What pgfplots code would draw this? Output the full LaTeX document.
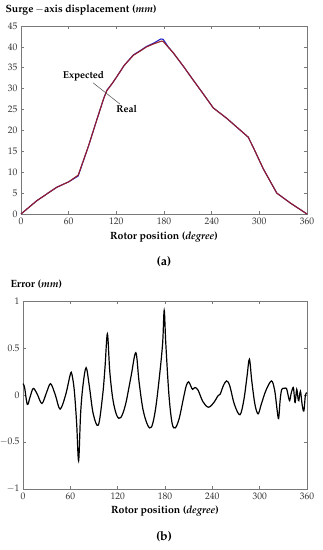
\documentclass[border=0pt]{standalone}
\usepackage[T1]{fontenc}
\usepackage{mathpazo}
\usepackage{pgfplots}
\pgfplotsset{compat=1.18}
\definecolor{axgray}{RGB}{120,120,120}
\definecolor{txtgray}{RGB}{50,50,50}
\definecolor{expblue}{RGB}{40,40,200}
\definecolor{realred}{RGB}{150,30,40}
\pgfplotsset{
  myax/.style={
    scale only axis, width=286pt, height=188pt,
    xmin=0, xmax=360, xtick={0,60,...,360},
    tick align=inside, major tick length=3pt,
    axis line style={axgray, line width=0.6pt},
    tick style={axgray, line width=0.6pt},
    ticklabel style={font=\fontsize{9.5}{11}\selectfont, text=txtgray},
    clip=false,
  }
}
\begin{document}
\begin{tikzpicture}
\path[use as bounding box] (0pt,0pt) rectangle (322pt,-550pt);
% ---------- (a) ----------
\begin{axis}[myax, at={(21pt,-214pt)}, anchor=south west,
  ymin=0, ymax=45, ytick={0,5,...,45}]
\addplot[expblue, line width=1.1pt] coordinates {
(0,0) (20,3.2) (45,6.4) (60,7.7) (72,9.1) (85,16.3) (95,22.3) (104,27.6) (108,29.6)
(115,31.3) (120,32.7) (130,35.6) (141.5,38.1) (150,39.1) (158,40.1) (168,41.0) (176,41.9) (179,41.8)
(185,40.1) (192,38.5) (205,35.2) (217,32) (230,28.6) (242,25.4) (259,22.9) (286,18.4) (292,16.1)
(305,10.8) (322,5) (340,2.5) (360,0)};
\addplot[realred, line width=1.1pt] coordinates {
(0,0) (20,3.2) (45,6.4) (60,7.7) (72,9.3) (85,16.3) (95,22.3) (104,27.6) (108,29.5)
(115,31.3) (120,32.7) (130,35.6) (141.5,38.0) (150,39.0) (158,40.0) (168,40.8) (177,41.4) (179,41.3)
(185,40.0) (192,38.5) (205,35.2) (217,32) (230,28.6) (242,25.4) (259,22.9) (286,18.4) (292,16.1)
(305,10.8) (322,5) (340,2.5) (360,0)};
\draw[black!70, line width=0.5pt] (axis cs:90.7,31.4) -- (axis cs:124.7,26.3);
\node[font=\fontsize{10}{12}\selectfont\bfseries] at (axis cs:78.7,33.0) {Expected};
\node[font=\fontsize{10}{12}\selectfont\bfseries] at (axis cs:132.9,25.1) {Real};
\end{axis}
\node[anchor=west, font=\fontsize{10.5}{12}\selectfont\bfseries] at (2pt,-10pt) {Surge\,$-$axis displacement (\textit{mm})};
\node[font=\fontsize{10.5}{12}\selectfont\bfseries] at (164pt,-237pt) {Rotor position (\textit{degree})};
\node[font=\fontsize{12.5}{14}\selectfont\bfseries] at (164pt,-262pt) {(a)};
% ---------- (b) ----------
\begin{axis}[myax, at={(23pt,-489pt)}, anchor=south west, width=284pt,
  ymin=-1, ymax=1, ytick={-1,-0.5,0,0.5,1}]
\addplot[black, line width=1.2pt, smooth, tension=0.55] coordinates {
(0,0.12) (2,0.08) (5.5,-0.10) (9,-0.02) (13,0.07) (18,0.01) (24,-0.09) (30,0.03) (35,0.12)
(41,0.0) (47,-0.15) (54,0.0) (60,0.22) (62,0.22) (65,0.05) (68,-0.3) (70.5,-0.70) (73,-0.2)
(76,0.1) (80,0.29) (84,0.1) (89,-0.2) (95.5,-0.32) (101,0.0) (104,0.3) (107,0.65) (110,0.25)
(114,-0.05) (119,-0.22) (124,-0.24) (130,-0.1) (137,0.2) (143,0.45) (147,0.15) (152,-0.15)
(158,-0.32) (163,-0.34) (168,-0.15) (173,0.2) (177,0.55) (179,0.9) (181,0.55) (185,0.0)
(189,-0.3) (193,-0.35) (198,-0.25) (203,-0.05) (207,0.1) (210,0.14) (213,0.09) (215,0.06)
(218,0.08) (222,0.05) (228,-0.07) (235,-0.13) (242,-0.08) (247,-0.01) (250,0.01) (251,0.03)
(254,0.1) (258,0.15) (262,0.1) (268,-0.1) (275,-0.21) (280,-0.05) (284,0.2) (287,0.38)
(290,0.15) (294,-0.1) (298,-0.2) (302,-0.1) (308,0.05) (315,0.15) (319,0.05) (322,-0.15)
(324,-0.25) (326,-0.05) (328,0.06) (331,0.07) (334,0.07) (336,0.0) (338,-0.06) (340,0.02)
(342.6,0.08) (344,-0.02) (345,-0.08) (347,0.06) (348.5,-0.03) (349.6,-0.06) (351.7,0.04)
(353.8,-0.1) (356,-0.17) (358,0.0) (360,0.02)};
\end{axis}
\node[anchor=west, font=\fontsize{10.5}{12}\selectfont\bfseries] at (7pt,-284pt) {Error (\textit{mm})};
\node[font=\fontsize{10.5}{12}\selectfont\bfseries] at (165pt,-511pt) {Rotor position (\textit{degree})};
\node[font=\fontsize{12.5}{14}\selectfont\bfseries] at (164pt,-537pt) {(b)};
\end{tikzpicture}
\end{document}
